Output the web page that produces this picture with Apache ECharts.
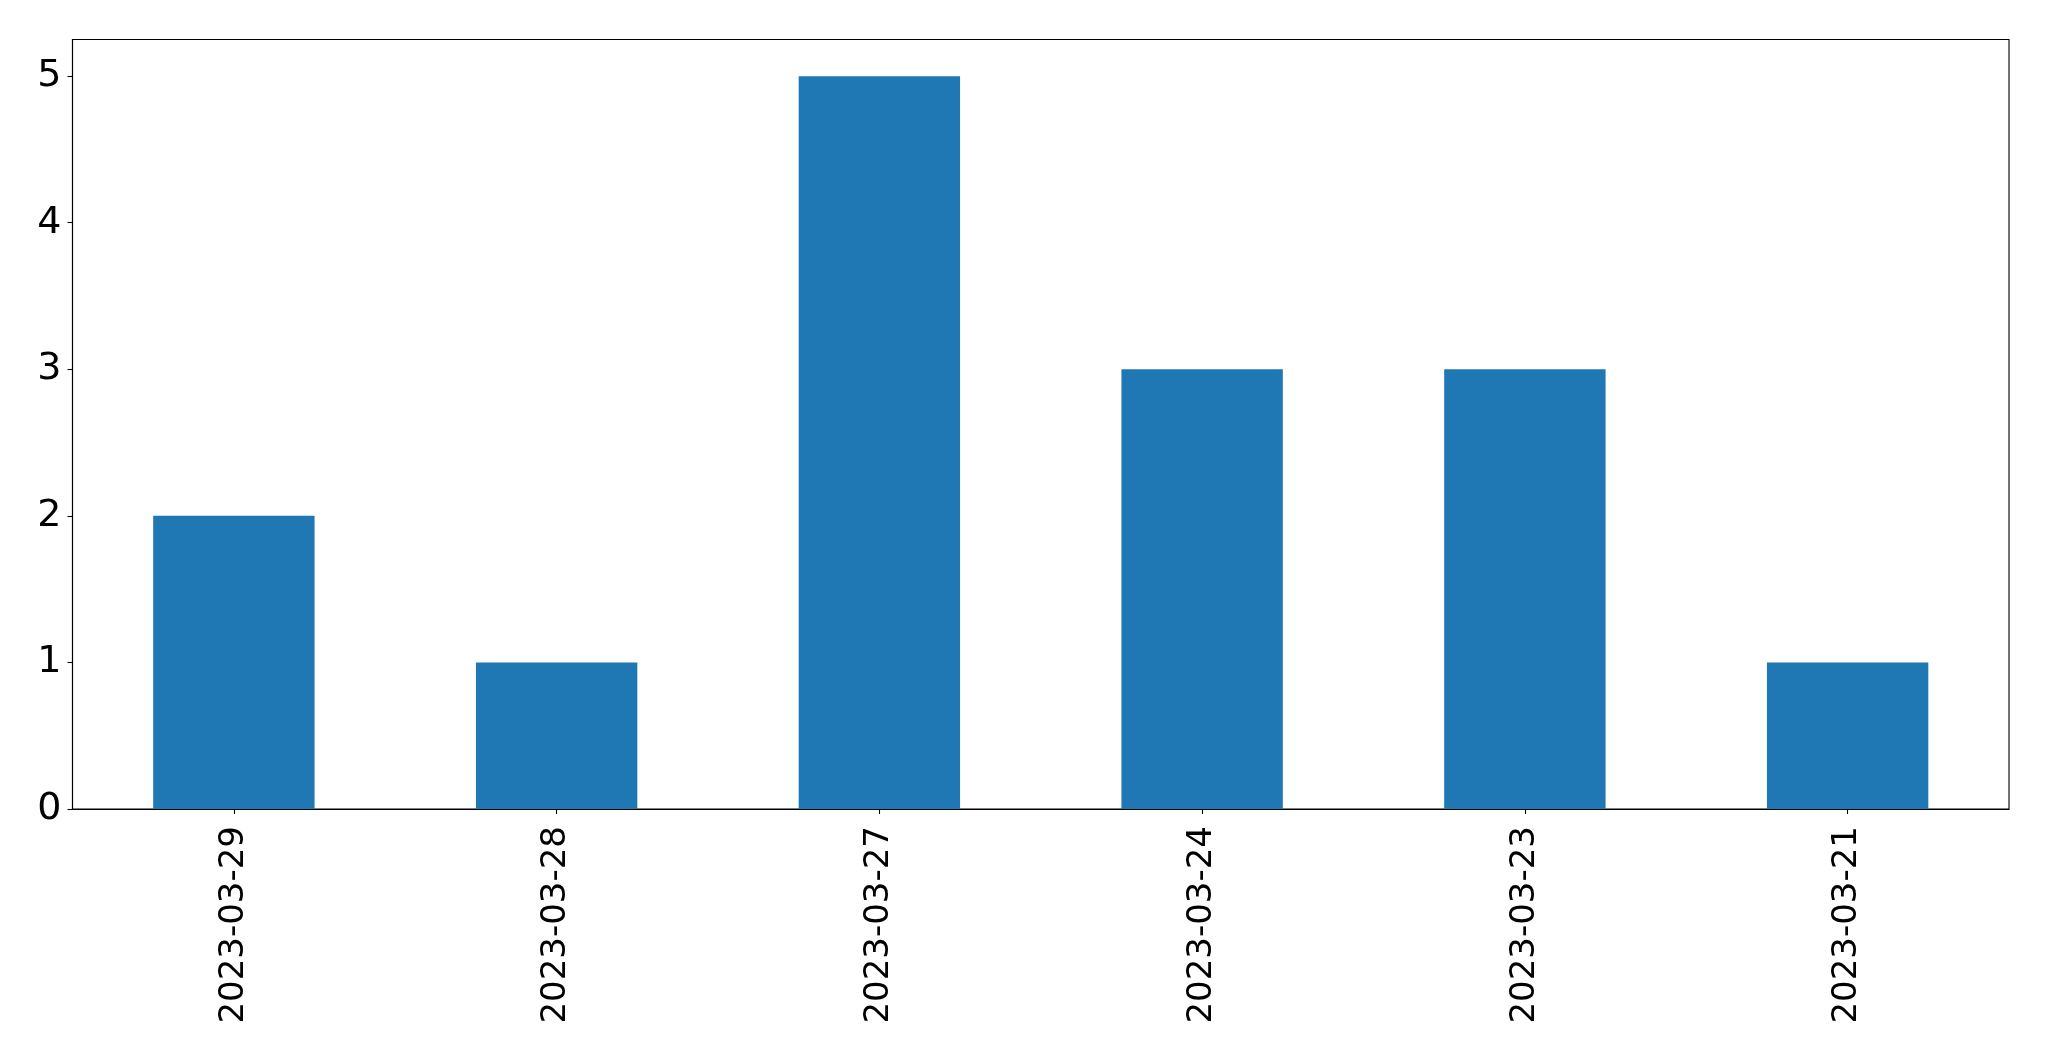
<!DOCTYPE html>
<html>
<head>
<meta charset="utf-8">
<script src="https://cdn.jsdelivr.net/npm/echarts@6/dist/echarts.min.js"></script>
<style>html,body{margin:0;padding:0;background:#fff;}#c{width:2049px;height:1061px;}</style>
</head>
<body>
<div id="c"></div>
<script>
const categories = ["2023-03-29", "2023-03-28", "2023-03-27", "2023-03-24", "2023-03-23", "2023-03-21"];
const values = [2, 1, 5, 3, 3, 1];
const yTicks = [0, 1, 2, 3, 4, 5];

const chart = echarts.init(document.getElementById('c'), null, {renderer: 'canvas'});
const font = 'DejaVu Sans';
chart.setOption({
  animation: false,
  backgroundColor: '#ffffff',
  grid: {left: 72.5, right: 40, top: 39.5, bottom: 252, show: true, borderColor: '#000', borderWidth: 1.1, backgroundColor: 'transparent'},
  xAxis: {
    type: 'category',
    data: categories,
    axisLine: {show: true, lineStyle: {color: '#000', width: 1.1}},
    axisTick: {show: true, alignWithLabel: true, length: 5, lineStyle: {color: '#000', width: 1.1}},
    axisLabel: {rotate: 90, margin: 17, color: '#000', fontFamily: font, fontSize: 34, interval: 0}
  },
  yAxis: {
    type: 'value',
    min: 0,
    max: 5.25,
    interval: 1,
    splitLine: {show: false},
    axisLine: {show: true, lineStyle: {color: '#000', width: 1.1}},
    axisTick: {show: true, length: 5, lineStyle: {color: '#000', width: 1.1}, customValues: yTicks},
    axisLabel: {margin: 11, color: '#000', fontFamily: font, fontSize: 38, customValues: yTicks}
  },
  series: [{
    type: 'bar',
    data: values,
    barWidth: '50%',
    itemStyle: {color: '#1f77b4'}
  }]
});
</script>
</body>
</html>
